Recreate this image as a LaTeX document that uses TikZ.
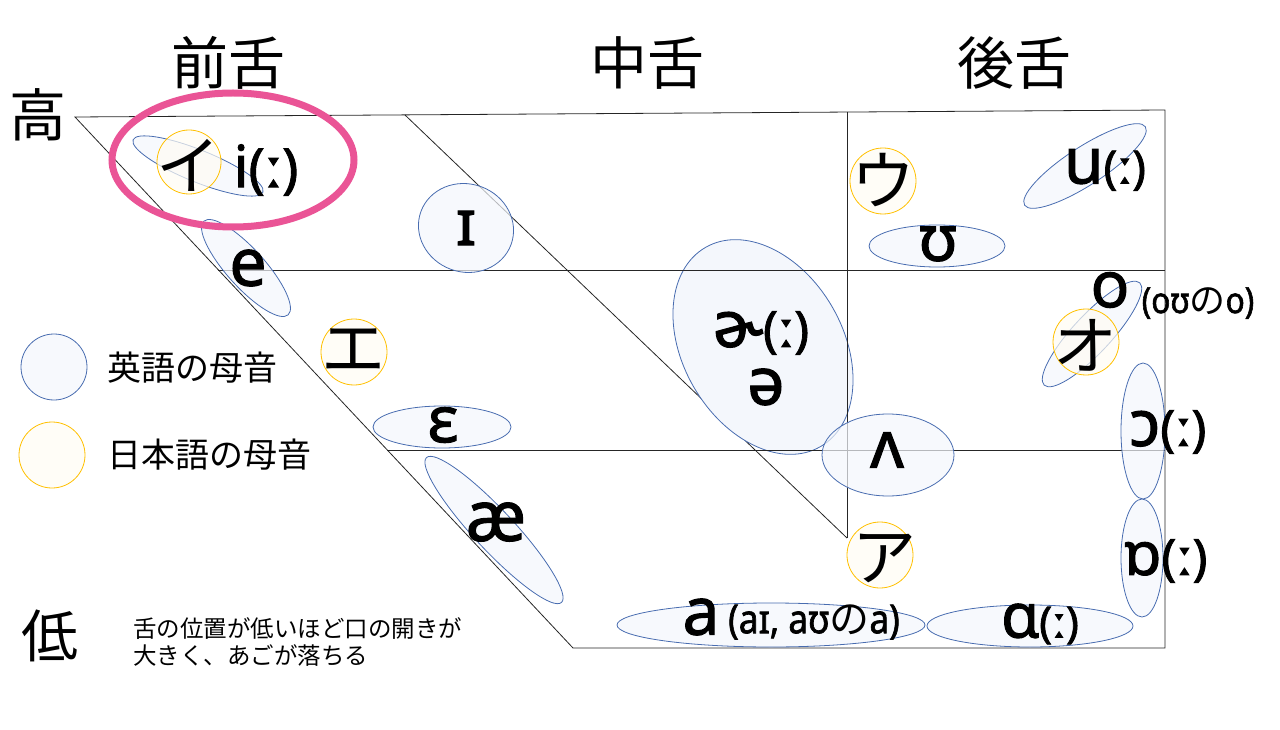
\documentclass[tikz,border=0pt]{standalone}
\usepackage{fontspec}
\setmainfont{Noto Sans}[FakeBold=1.6]
\newfontfamily\narrow{Noto Sans}[FakeBold=1.6,FakeStretch=0.88]
\newfontfamily\jp{Noto Sans CJK JP}
\usepackage{xcolor}
\definecolor{engblue}{RGB}{72,108,176}
\definecolor{engfill}{RGB}{244,247,252}
\definecolor{jpnorange}{RGB}{255,192,0}
\definecolor{jpnfill}{RGB}{255,252,244}
\definecolor{hilite}{RGB}{234,84,150}
\newcommand{\fs}[1]{\fontsize{#1}{#1}\selectfont}

\begin{document}
\begin{tikzpicture}[x=1pt,y=-1pt,
  eng/.style={draw=engblue,fill=engfill,fill opacity=0.7,draw opacity=1,line width=0.8pt},
  jpn/.style={draw=jpnorange,fill=jpnfill,fill opacity=0.7,draw opacity=1,line width=0.8pt},
  chart/.style={draw=black!85,line width=0.8pt},
  lbl/.style={inner sep=0pt},
  kana/.style={inner sep=0pt,font=\jp\fs{64}},
  head/.style={inner sep=0pt,font=\jp\fs{57}}]
\useasboundingbox (0,0) rectangle (1280,730);

% tongue chart
\draw [chart] (405,115) -- (847,538);
\draw [eng,fill opacity=1] [rotate around={-60:(763,347)}] (763,347) ellipse (115 and 80);
\draw [chart] (1165,110) -- (75,117) -- (573,648) -- (1165,648) -- cycle;
\draw [chart] (218,270) -- (1165,270);
\draw [chart] (387,450) -- (1165,450);
\draw [chart] (847,112) -- (847,538);

% english vowels
\draw [eng] [rotate around={-22:(198,166)}] (198,166) ellipse (70 and 16);
\draw [eng] [rotate around={-48:(246,268)}] (246,268) ellipse (63 and 19);
\draw [eng] [rotate around={-20:(466,228)}] (466,228) ellipse (48 and 44);
\draw [eng] (442,427) ellipse (69 and 21);
\draw [eng] [rotate around={-47:(494,530)}] (494,530) ellipse (99 and 20);
\draw [eng] (937,246) ellipse (68 and 21);
\draw [eng] [rotate around={33:(1085,166)}] (1085,166) ellipse (72 and 19);
\draw [eng] [rotate around={47:(1092,334)}] (1092,334) ellipse (70 and 19);
\draw [eng] (888,455) ellipse (66 and 41);
\draw [eng] (1143,431) ellipse (22 and 68);
\draw [eng] (1142,558) ellipse (21 and 59);
\draw [eng] (771,625) ellipse (154 and 22);
\draw [eng] (1030,626) ellipse (103 and 21);

% japanese vowels
\draw [jpn] (189,162) circle (32);
\draw [jpn] (354,352) circle (33);
\draw [jpn] (883,181) circle (33);
\draw [jpn] (1086,342) circle (33);
\draw [jpn] (880,555) circle (33);

\draw [hilite,line width=7pt] (233,160) ellipse (121 and 67);

% headings
\node [head] (front) at (228,63) {前舌};
\node [head] (central) at (647,63) {中舌};
\node [head] (back) at (1014,63) {後舌};
\node [head] (high) at (38,115) {高};
\node [head] (low) at (50,636) {低};

% labels
\node [kana] (kI) at (188,165) {イ};
\node [kana] (kE) at (353,350) {エ};
\node [kana] (kU) at (883,180) {ウ};
\node [kana] (kO) at (1085,345) {オ};
\node [kana] (kA) at (884,558) {ア};

\node [lbl] (vi) at (266,170) {\fs{58}i\fs{54}(ː)};
\node [lbl,font=\fs{66}] (ve) at (248,268) {e};
\node [lbl,font=\fs{64}] (vI) at (466,228) {ɪ};
\node [lbl,font=\fs{64}] (veh) at (443,425) {ɛ};
\node [lbl,font=\fs{70}] (vae) at (496,522) {æ};
\node [lbl] (ver) at (761,333) {\fs{64}ɚ\fs{50}(ː)};
\node [lbl,font=\fs{66}] (vschwa) at (766,387) {ə};
\node [lbl,font=\fs{64}] (vU) at (938,244) {ʊ};
\node [lbl] (vu) at (1105,170) {\fs{64}u\fs{46}(ː)};
\node [lbl,font=\fs{64}] (vo) at (1110,290) {o};
\node [lbl,font=\narrow\fs{36}] (vonote) at (1198,303) {(oʊ{\jp の}o)};
\node [lbl,font=\fs{66}] (vV) at (887,450) {ʌ};
\node [lbl] (voo) at (1168,432) {\fs{64}ɔ\fs{50}(ː)};
\node [lbl] (vQ) at (1166,561) {\fs{60}ɒ\fs{50}(ː)};
\node [lbl,font=\fs{66}] (va) at (701,617) {a};
\node [lbl,font=\narrow\fs{40}] (vanote) at (814,622) {(aɪ, aʊ{\jp の}a)};
\node [lbl] (vA) at (1040,624) {\fs{62}ɑ\fs{43}(ː)};

% legend
\draw [eng] (54,367) circle (33);
\draw [jpn] (52,455) circle (33);
\node [lbl,anchor=west,font=\jp\fs{34}] (legEng) at (107,368) {英語の母音};
\node [lbl,anchor=west,font=\jp\fs{34}] (legJpn) at (107,455) {日本語の母音};

\node [lbl,anchor=north west,align=left,font=\jp\fontsize{23.5}{27}\selectfont] (note) at (133,617) {舌の位置が低いほど口の開きが\\大きく、あごが落ちる};
\end{tikzpicture}
\end{document}
